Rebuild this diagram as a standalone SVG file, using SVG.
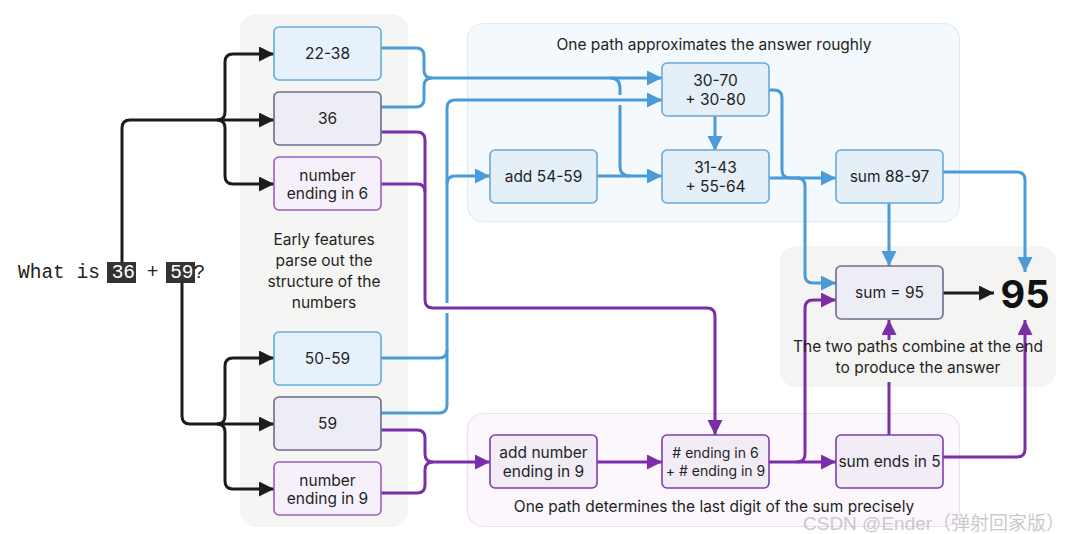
<svg xmlns="http://www.w3.org/2000/svg" width="1080" height="534" viewBox="0 0 1080 534">
<defs>
<style>
.t{font-family:Inter,"Noto Sans",sans-serif;fill:#1f1f24;text-anchor:middle}
.n{font-size:15.5px}
.s{font-size:14px}
.cap{font-size:15.5px}
.mono{font-family:"Liberation Mono","DejaVu Sans Mono",monospace;font-size:19.5px;fill:#222}
.nb{fill:#e6f1fb;stroke:#62ade0;stroke-width:1.6}
.nbt{fill:#e4eff8;stroke:#6aa9d8;stroke-width:1.6}
.ng{fill:#ededf6;stroke:#6c6c8c;stroke-width:1.6}
.np{fill:#f6f0fa;stroke:#9c5cc8;stroke-width:1.6}
.npb{fill:#f1ecf6;stroke:#7e3db0;stroke-width:1.6}
.cb{fill:none;stroke:#4a9bd7;stroke-width:3}
.cp{fill:none;stroke:#7a2ea8;stroke-width:3}
.ck{fill:none;stroke:#1c1c1c;stroke-width:3}
</style>
<marker id="ab" markerUnits="userSpaceOnUse" markerWidth="16" markerHeight="16" refX="15" refY="7.5" orient="auto"><path d="M0,0 L15,7.5 L0,15 z" fill="#4a9bd7"/></marker>
<marker id="ap" markerUnits="userSpaceOnUse" markerWidth="16" markerHeight="16" refX="15" refY="7.5" orient="auto"><path d="M0,0 L15,7.5 L0,15 z" fill="#7a2ea8"/></marker>
<marker id="ak" markerUnits="userSpaceOnUse" markerWidth="16" markerHeight="16" refX="15" refY="7.5" orient="auto"><path d="M0,0 L15,7.5 L0,15 z" fill="#1c1c1c"/></marker>
</defs>
<rect width="1080" height="534" fill="#ffffff"/>

<g id="panels">
<rect x="240" y="14" width="168" height="513" rx="16" fill="#f5f5f3"/>
<rect x="467.5" y="23.5" width="492" height="198" rx="16" fill="#f4f9fd" stroke="#e0ebf3" stroke-width="1.2"/>
<rect x="780" y="246" width="276" height="141" rx="16" fill="#f4f4f2"/>
<rect x="467.5" y="413.5" width="492" height="113" rx="16" fill="#fbf7fd" stroke="#ebe0f0" stroke-width="1.2"/>
</g>

<g id="question">
<rect x="107" y="262" width="29" height="21" fill="#333333"/>
<rect x="166" y="262" width="29" height="21" fill="#333333"/>
<text class="mono" x="18" y="278" xml:space="preserve">What is <tspan fill="#ffffff">36</tspan> + <tspan fill="#ffffff">59</tspan>?</text>
</g>

<g id="connectors">
<!-- black -->
<path class="ck" d="M122,262 V128 Q122,120 130,120 H274" marker-end="url(#ak)"/>
<path class="ck" d="M217,120 Q225,120 225,112 V62 Q225,54 233,54 H274" marker-end="url(#ak)"/>
<path class="ck" d="M217,120 Q225,120 225,128 V176 Q225,184 233,184 H274" marker-end="url(#ak)"/>
<path class="ck" d="M182,283 V416 Q182,424 190,424 H274" marker-end="url(#ak)"/>
<path class="ck" d="M217,424 Q225,424 225,416 V366 Q225,358 233,358 H274" marker-end="url(#ak)"/>
<path class="ck" d="M217,424 Q225,424 225,432 V481 Q225,489 233,489 H274" marker-end="url(#ak)"/>
<path class="ck" d="M943,293 H994" marker-end="url(#ak)"/>
<!-- blue -->
<path class="cb" d="M381,48 H416 Q424,48 424,56 V70 Q424,78 432,78 H662" marker-end="url(#ab)"/>
<path class="cb" d="M381,107 H416 Q424,107 424,99 V86 Q424,78 432,78"/>
<path class="cb" d="M610,78 Q620,78 620,88 V166 Q620,176 630,176"/>
<path d="M612,100 H628" stroke="#f4f9fd" stroke-width="10" fill="none"/>
<path class="cb" d="M381,413 H439 Q447,413 447,405 V108 Q447,100 455,100 H662" marker-end="url(#ab)"/>
<path class="cb" d="M381,358 H439 Q447,358 447,350"/>
<path class="cb" d="M447,184 Q447,176 455,176 H490" marker-end="url(#ab)"/>
<path class="cb" d="M597,176 H662" marker-end="url(#ab)"/>
<path class="cb" d="M715,116 V151" marker-end="url(#ab)"/>
<path class="cb" d="M769,90 H774 Q782,90 782,98 V170 Q782,178 790,178 H836" marker-end="url(#ab)"/>
<path class="cb" d="M769,178 H800"/>
<path class="cb" d="M797,178 Q805,178 805,186 V275 Q805,283 813,283 H836" marker-end="url(#ab)"/>
<path class="cb" d="M889,203 V266" marker-end="url(#ab)"/>
<path class="cb" d="M943,172 H1017 Q1025,172 1025,180 V272" marker-end="url(#ab)"/>
<!-- purple -->
<path d="M439,308 H455" stroke="#ffffff" stroke-width="10" fill="none"/>
<path class="cp" d="M381,132 H417 Q425,132 425,140 V300 Q425,308 433,308 H707 Q715,308 715,316 V435" marker-end="url(#ap)"/>
<path class="cp" d="M381,184 H417 Q425,184 425,192"/>
<path class="cp" d="M381,430 H417 Q425,430 425,438 V454 Q425,462 433,462 H490" marker-end="url(#ap)"/>
<path class="cp" d="M381,493 H417 Q425,493 425,485 V470 Q425,462 433,462"/>
<path class="cp" d="M597,462 H662" marker-end="url(#ap)"/>
<path class="cp" d="M769,462 H836" marker-end="url(#ap)"/>
<path class="cp" d="M797,462 Q805,462 805,454 V308 Q805,300 813,300 H836" marker-end="url(#ap)"/>
<path class="cp" d="M889,435 V382"/>
<path class="cp" d="M889,340 V320" marker-end="url(#ap)"/>
<path class="cp" d="M943,457 H1017 Q1025,457 1025,449 V320" marker-end="url(#ap)"/>
</g>

<g id="n2238"><rect class="nb" x="274" y="27" width="107" height="53" rx="5"/><text class="t n" x="327.5" y="59">22-38</text></g>
<g id="n36"><rect class="ng" x="274" y="92" width="107" height="53" rx="5"/><text class="t n" x="327.5" y="124">36</text></g>
<g id="nend6"><rect class="np" x="274" y="157" width="107" height="53" rx="5"/><text class="t n" x="327.5" y="181">number</text><text class="t n" x="327.5" y="199">ending in 6</text></g>
<g id="early"><text class="t cap" x="324" y="245">Early features</text><text class="t cap" x="324" y="266">parse out the</text><text class="t cap" x="324" y="287">structure of the</text><text class="t cap" x="324" y="308">numbers</text></g>
<g id="n5059"><rect class="nb" x="274" y="332" width="107" height="53" rx="5"/><text class="t n" x="327.5" y="364">50-59</text></g>
<g id="n59"><rect class="ng" x="274" y="397" width="107" height="53" rx="5"/><text class="t n" x="327.5" y="429">59</text></g>
<g id="nend9"><rect class="np" x="274" y="462" width="107" height="53" rx="5"/><text class="t n" x="327.5" y="486">number</text><text class="t n" x="327.5" y="504">ending in 9</text></g>

<g id="toptitle"><text class="t cap" x="714" y="50">One path approximates the answer roughly</text></g>
<g id="n3070"><rect class="nbt" x="662" y="63" width="107" height="53" rx="5"/><text class="t n" x="715.5" y="86">30-70</text><text class="t n" x="715.5" y="105">+ 30-80</text></g>
<g id="nadd5459"><rect class="nbt" x="490" y="150" width="107" height="53" rx="5"/><text class="t n" x="543.5" y="182">add 54-59</text></g>
<g id="n3143"><rect class="nbt" x="662" y="150" width="107" height="53" rx="5"/><text class="t n" x="715.5" y="173">31-43</text><text class="t n" x="715.5" y="192">+ 55-64</text></g>
<g id="nsum8897"><rect class="nbt" x="836" y="150" width="107" height="53" rx="5"/><text class="t n" x="889.5" y="182">sum 88-97</text></g>

<g id="nsum95"><rect class="ng" x="836" y="266" width="107" height="53" rx="5"/><text class="t n" x="889.5" y="298">sum = 95</text></g>
<g id="answer"><text x="1025" y="308" text-anchor="middle" font-family="Inter,'Liberation Sans',sans-serif" font-weight="700" font-size="38" fill="#111">95</text></g>
<g id="combine"><text class="t cap" x="918" y="352">The two paths combine at the end</text><text class="t cap" x="918" y="373">to produce the answer</text></g>

<g id="naddend9"><rect class="npb" x="490" y="435" width="107" height="53" rx="5"/><text class="t n" x="543.5" y="458">add number</text><text class="t n" x="543.5" y="477">ending in 9</text></g>
<g id="nendings"><rect class="npb" x="662" y="435" width="107" height="53" rx="5"/><text class="t s" x="715.5" y="458"># ending in 6</text><text class="t s" x="715.5" y="476">+ # ending in 9</text></g>
<g id="nsumend5"><rect class="npb" x="836" y="435" width="107" height="53" rx="5"/><text class="t n" x="889.5" y="467">sum ends in 5</text></g>
<g id="bottitle"><text class="t cap" x="714" y="512">One path determines the last digit of the sum precisely</text></g>

<g id="watermark"><text x="803" y="530" font-family="'Liberation Sans','Noto Sans CJK SC',sans-serif" font-size="19" fill="#b8b8b8" fill-opacity="0.75">CSDN @Ender（弹射回家版）</text></g>
</svg>
